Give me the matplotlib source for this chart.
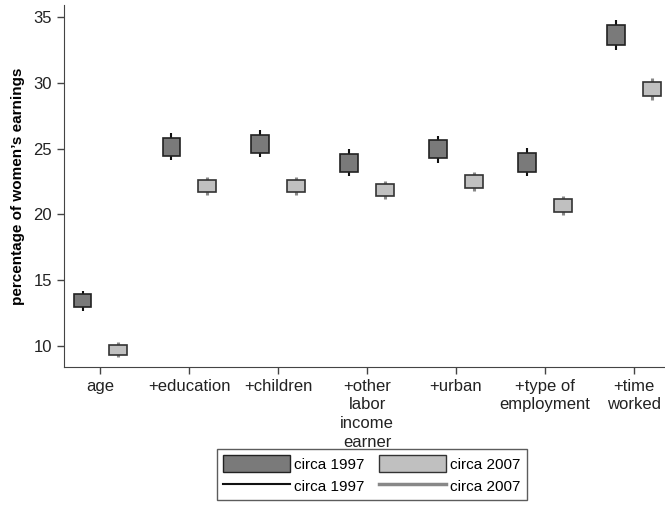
import numpy as np
import matplotlib
matplotlib.use("Agg")
import matplotlib.pyplot as plt
from matplotlib.patches import Patch
from matplotlib.lines import Line2D

plt.rcParams['font.family'] = ['Liberation Sans', 'DejaVu Sans']

categories = ['age', '+education', '+children', '+other\nlabor\nincome\nearner',
              '+urban', '+type of\nemployment', '+time\nworked']

# circa 1997: box bottom/top and whisker low/high
box_lo_97 = [12.92, 24.43, 24.68, 23.24, 24.26, 23.24, 32.88]
box_hi_97 = [13.94, 25.82, 26.02, 24.61, 25.62, 24.66, 34.37]
ci_lo_97 = [12.62, 24.10, 24.36, 22.91, 23.92, 22.89, 32.45]
ci_hi_97 = [14.19, 26.15, 26.38, 24.94, 25.97, 25.01, 34.80]

# circa 2007
box_lo_07 = [9.31, 21.72, 21.72, 21.40, 22.03, 20.18, 28.96]
box_hi_07 = [10.07, 22.63, 22.63, 22.28, 22.99, 21.17, 30.05]
ci_lo_07 = [9.13, 21.47, 21.47, 21.15, 21.80, 19.98, 28.68]
ci_hi_07 = [10.27, 22.84, 22.84, 22.51, 23.19, 21.42, 30.33]

dark = '#7a7a7a'
light = '#c0c0c0'

fig = plt.figure(figsize=(6.65, 5.11), dpi=100)
ax = fig.add_axes([0.096, 0.282, 0.904, 0.708])

x = np.arange(1, len(categories) + 1)
off = 0.2
w = 0.2

ax.vlines(x - off, ci_lo_97, ci_hi_97, color='#111111', lw=1.5, zorder=1)
ax.vlines(x + off, ci_lo_07, ci_hi_07, color='#888888', lw=2.2, zorder=1)
ax.bar(x - off, np.array(box_hi_97) - np.array(box_lo_97), bottom=box_lo_97,
       width=w, color=dark, edgecolor='#222222', lw=1.2, zorder=2)
ax.bar(x + off, np.array(box_hi_07) - np.array(box_lo_07), bottom=box_lo_07,
       width=w, color=light, edgecolor='#333333', lw=1.2, zorder=2)

ax.set_xlim(0.59, 7.35)
ax.set_ylim(8.4, 35.9)
ax.set_yticks([10, 15, 20, 25, 30, 35])
ax.set_xticks(x)
ax.set_xticklabels(categories, linespacing=1.3)
ax.set_ylabel("percentage of women\u2019s earnings", fontsize=11, fontweight='bold',
              labelpad=6)

for s in ['top', 'right']:
    ax.spines[s].set_visible(False)
for s in ['left', 'bottom']:
    ax.spines[s].set_color('#444444')
ax.tick_params(axis='both', labelsize=12, colors='#222222', length=5, width=1,
               direction='out')
ax.tick_params(axis='both', color='#444444')

handles = [Patch(facecolor=dark, edgecolor='#222222', label='circa 1997'),
           Line2D([], [], color='#111111', lw=1.5, label='circa 1997'),
           Patch(facecolor=light, edgecolor='#333333', label='circa 2007'),
           Line2D([], [], color='#888888', lw=2.5, label='circa 2007')]
fig.legend(handles=handles, ncol=2, loc='upper center', bbox_to_anchor=(0.559, 0.121),
           frameon=True, fancybox=False, edgecolor='#333333', fontsize=11,
           handlelength=4.4, handleheight=1.3, columnspacing=0.9, borderaxespad=0,
           labelspacing=0.35, handletextpad=0.3, borderpad=0.4)

fig.savefig('out.png', dpi=100)
